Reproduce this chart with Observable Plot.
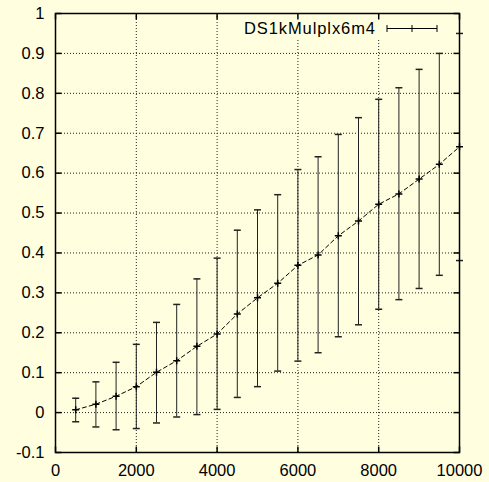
<!DOCTYPE html>
<html>
<head>
<meta charset="utf-8">
<script src="https://cdn.jsdelivr.net/npm/d3@7"></script>
<script src="https://cdn.jsdelivr.net/npm/@observablehq/plot@0.6"></script>
<style>
  html, body { margin: 0; padding: 0; background: #ffffe0; }
</style>
</head>
<body>
<div id="chart"></div>
<script>
const seriesName = "DS1kMulplx6m4";
const xs = [500, 1000, 1500, 2000, 2500, 3000, 3500, 4000, 4500, 5000,
            5500, 6000, 6500, 7000, 7500, 8000, 8500, 9000, 9500, 10000];
const means = [0.007, 0.021, 0.041, 0.065, 0.101, 0.130, 0.166, 0.197, 0.247, 0.2875,
               0.324, 0.369, 0.395, 0.443, 0.480, 0.522, 0.548, 0.585, 0.622, 0.666];
const highs = [0.036, 0.077, 0.126, 0.171, 0.226, 0.271, 0.335, 0.387, 0.457, 0.508,
               0.546, 0.609, 0.641, 0.697, 0.739, 0.785, 0.814, 0.860, 0.900, 0.950];
const lows = [-0.023, -0.036, -0.043, -0.040, -0.026, -0.011, -0.005, 0.008, 0.038, 0.065,
              0.104, 0.129, 0.150, 0.190, 0.220, 0.259, 0.283, 0.311, 0.344, 0.381];
const xTicks = [0, 2000, 4000, 6000, 8000, 10000];
const yTicks = [-0.1, 0, 0.1, 0.2, 0.3, 0.4, 0.5, 0.6, 0.7, 0.8, 0.9, 1];

const data = xs.map((x, i) => ({x, mean: means[i], hi: highs[i], lo: lows[i]}));

const FONT = "'Liberation Sans', Arial, Helvetica, sans-serif";
const BG = "#ffffe0";

// custom symbols
const capSym = {draw(ctx) { ctx.moveTo(-3.5, 0); ctx.lineTo(3.5, 0); }};
const plusSym = {draw(ctx) { ctx.moveTo(-3.5, 0); ctx.lineTo(3.5, 0); ctx.moveTo(0, -3.5); ctx.lineTo(0, 3.5); }};
const tickL = {draw(ctx) { ctx.moveTo(0, 0); ctx.lineTo(6, 0); }};
const tickR = {draw(ctx) { ctx.moveTo(0, 0); ctx.lineTo(-6, 0); }};
const tickB = {draw(ctx) { ctx.moveTo(0, 0); ctx.lineTo(0, -6); }};
const tickT = {draw(ctx) { ctx.moveTo(0, 0); ctx.lineTo(0, 6); }};

const innerY = yTicks.filter(v => v > -0.1 && v < 1);
const innerX = xTicks.filter(v => v > 0 && v < 10000);

function legend(index, scales, values, dims) {
  const right = dims.width - dims.marginRight;
  const top = dims.marginTop;
  const g = d3.create("svg:g");
  const cy = top + 15.5;
  g.append("rect").attr("x", right - 225).attr("y", top + 1).attr("width", 224).attr("height", 24).attr("fill", BG);
  g.append("text").attr("x", right - 84).attr("y", cy).attr("dy", "0.35em")
    .attr("text-anchor", "end").attr("font-size", 16.5).attr("font-family", FONT).attr("fill", "black")
    .attr("textLength", 131).attr("lengthAdjust", "spacing")
    .text(seriesName);
  const x1 = right - 72, x2 = right - 22, xm = (x1 + x2) / 2;
  const p = `M${x1},${cy}H${x2}M${x1},${cy - 3.5}V${cy + 3.5}M${x2},${cy - 3.5}V${cy + 3.5}M${xm},${cy - 3.5}V${cy + 3.5}`;
  g.append("path").attr("d", p).attr("stroke", "black").attr("fill", "none").attr("stroke-width", 1);
  return g.node();
}

const chart = Plot.plot({
  width: 489,
  height: 482,
  marginLeft: 55,
  marginRight: 30,
  marginTop: 13,
  marginBottom: 30,
  style: {background: BG, fontFamily: FONT, fontSize: "16.5px", color: "black"},
  x: {domain: [0, 10000]},
  y: {domain: [-0.1, 1]},
  marks: [
    // grid
    Plot.ruleY(innerY, {stroke: "#222", strokeDasharray: "1,2"}),
    Plot.ruleX(innerX, {stroke: "#222", strokeDasharray: "1,2"}),
    // legend (covers grid)
    legend,
    // error bars
    Plot.ruleX(data, {x: "x", y1: "lo", y2: "hi", stroke: "#222", strokeWidth: 1}),
    Plot.dot(data, {x: "x", y: "hi", symbol: capSym, stroke: "#222", fill: "none", r: 3}),
    Plot.dot(data, {x: "x", y: "lo", symbol: capSym, stroke: "#222", fill: "none", r: 3}),
    // mean line
    Plot.line(data, {x: "x", y: "mean", stroke: "black", strokeDasharray: "4,3", strokeWidth: 1}),
    Plot.dot(data, {x: "x", y: "mean", symbol: plusSym, stroke: "black", fill: "none", r: 3}),
    // inward ticks
    Plot.dot(yTicks, {x: 0, y: d => d, symbol: tickL, stroke: "black", fill: "none"}),
    Plot.dot(yTicks, {x: 10000, y: d => d, symbol: tickR, stroke: "black", fill: "none"}),
    Plot.dot(xTicks, {x: d => d, y: -0.1, symbol: tickB, stroke: "black", fill: "none"}),
    Plot.dot(xTicks, {x: d => d, y: 1, symbol: tickT, stroke: "black", fill: "none"}),
    // axis labels
    Plot.axisY({ticks: yTicks, tickSize: 0, tickPadding: 11, label: null,
                tickFormat: d => String(+d.toFixed(1)), fontSize: 16.5}),
    Plot.axisX({ticks: xTicks, tickSize: 0, tickPadding: 12, label: null,
                tickFormat: d => String(d), fontSize: 16.5}),
    Plot.frame({stroke: "black", strokeWidth: 1.5})
  ]
});
document.getElementById("chart").appendChild(chart);
</script>
</body>
</html>
